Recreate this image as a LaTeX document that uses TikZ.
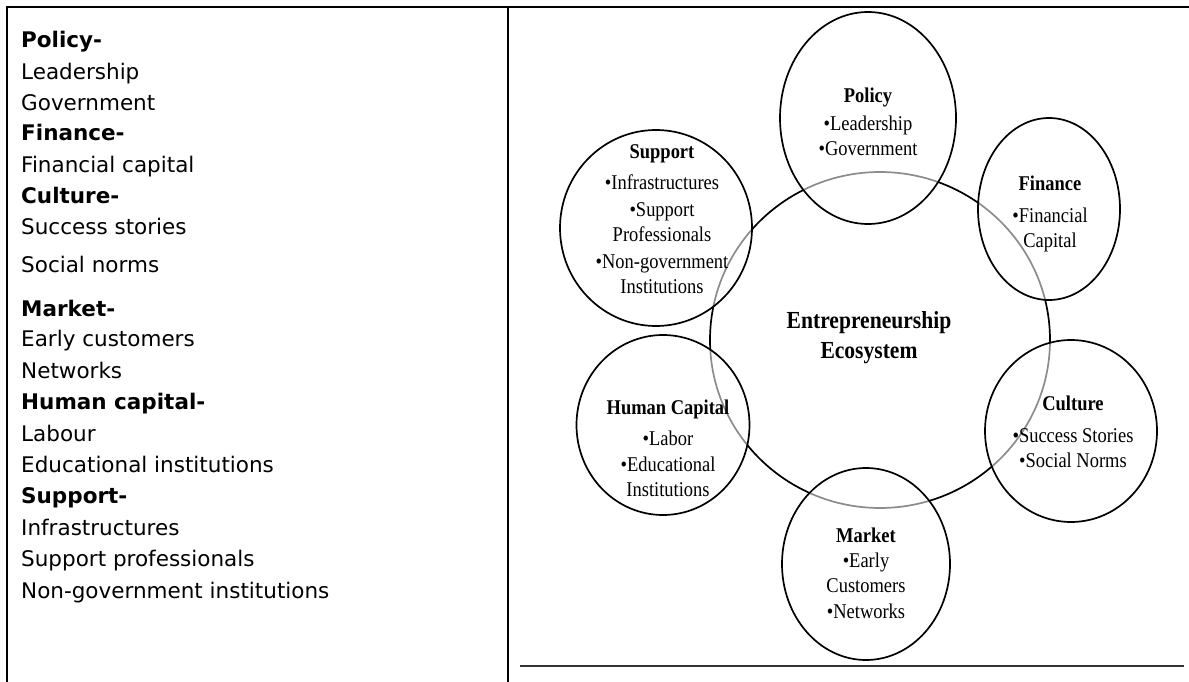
\documentclass[tikz,border=0pt]{standalone}
\usepackage{fontspec}
\setmainfont{Liberation Serif}
\newfontfamily\listfont{DejaVu Sans}
\newfontfamily\figfont[FakeStretch=0.88]{Liberation Serif}
\usetikzlibrary{shapes.geometric}

\begin{document}
\begin{tikzpicture}[x=1pt,y=-1pt,
  rule/.style={line width=2.2pt, black},
  listhead/.style={anchor=base west, inner sep=0, font=\listfont\bfseries\fontsize{21.5}{25}\selectfont},
  listitem/.style={anchor=base west, inner sep=0, font=\listfont\fontsize{21.5}{25}\selectfont},
  hub/.style={ellipse, draw=black, line width=1.7pt, inner sep=0},
  factor/.style={ellipse, draw=black, line width=1.7pt, inner sep=0,
                 fill=white, fill opacity=0.55},
  blurb/.style={align=center, anchor=north, inner sep=0,
                font=\figfont\fontsize{21}{25}\selectfont},
  hubtext/.style={align=center, inner sep=0,
                font=\figfont\bfseries\fontsize{24.5}{30}\selectfont}
]
\useasboundingbox (0,0) rectangle (1189,682);

% table frame
\draw[rule] (7,682) -- (7,7) -- (1189,7);
\draw[rule] (508,7) -- (508,682);
\draw[line width=1.4pt, black!80] (520,666) -- (1184,666);

% left column: list of factors
\node[listhead] (h1) at (21,48)  {Policy-};
\node[listitem] (i1) at (21,80)  {Leadership};
\node[listitem] (i2) at (21,111) {Government};
\node[listhead] (h2) at (21,141) {Finance-};
\node[listitem] (i3) at (21,172) {Financial capital};
\node[listhead] (h3) at (21,203) {Culture-};
\node[listitem] (i4) at (21,234) {Success stories};
\node[listitem] (i5) at (21,272) {Social norms};
\node[listhead] (h4) at (21,316) {Market-};
\node[listitem] (i6) at (21,346) {Early customers};
\node[listitem] (i7) at (21,378) {Networks};
\node[listhead] (h5) at (21,409) {Human capital-};
\node[listitem] (i8) at (21,441) {Labour};
\node[listitem] (i9) at (21,472) {Educational institutions};
\node[listhead] (h6) at (21,503) {Support-};
\node[listitem] (i10) at (21,535) {Infrastructures};
\node[listitem] (i11) at (21,566) {Support professionals};
\node[listitem] (i12) at (21,598) {Non-government institutions};

% ecosystem diagram: hub first, factor ellipses over it
\node[hub, minimum width=340pt, minimum height=336pt] (eco) at (880,340) {};
\node[hubtext] (ecot) at (869,338) {Entrepreneurship\\Ecosystem};

\node[factor, minimum width=176pt, minimum height=212pt] (pol) at (868,118) {};
\node[factor, minimum width=142pt, minimum height=182pt] (fin) at (1049,209) {};
\node[factor, minimum width=172pt, minimum height=182pt] (cul) at (1071,431) {};
\node[factor, minimum width=168pt, minimum height=192pt] (mkt) at (866,564) {};
\node[factor, minimum width=173pt, minimum height=180pt] (hum) at (663,425) {};
\node[factor, minimum width=192pt, minimum height=196pt] (sup) at (656,228) {};

\node[blurb] (polt) at (868,88)  {\textbf{Policy}\\[3pt]•Leadership\\•Government};
\node[blurb] (fint) at (1050,176) {\textbf{Finance}\\[7pt]•Financial\\Capital};
\node[blurb] (cult) at (1073,396) {\textbf{Culture}\\[7pt]•Success Stories\\•Social Norms};
\node[blurb] (mktt) at (866,528) {\textbf{Market}\\•Early\\Customers\\[1pt]•Networks};
\node[blurb] (humt) at (668,400) {\textbf{Human Capital}\\[6pt]•Labor\\[1pt]•Educational\\Institutions};
\node[blurb] (supt) at (662,144) {\textbf{Support}\\[6pt]•Infrastructures\\[2pt]•Support\\Professionals\\[2pt]•Non-government\\Institutions};
\end{tikzpicture}
\end{document}
